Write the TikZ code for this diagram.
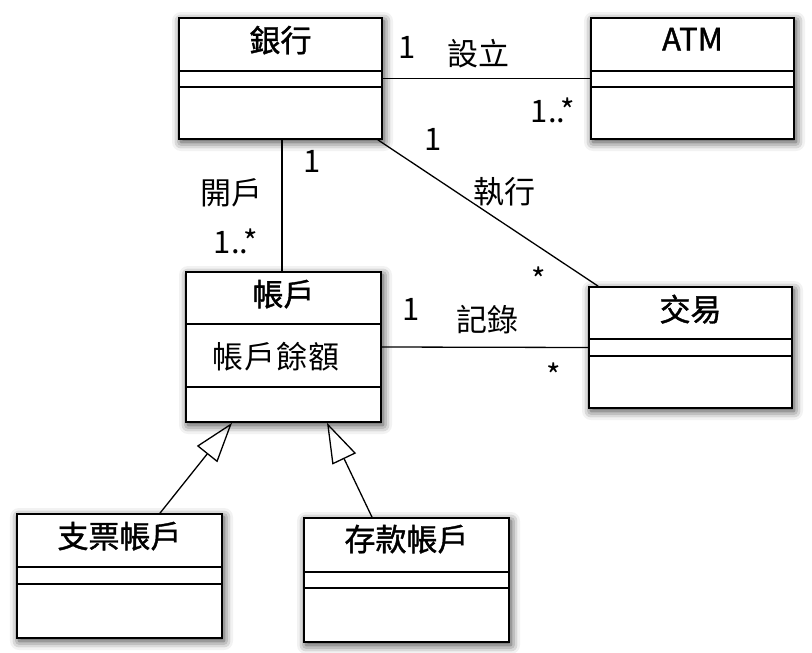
\documentclass[tikz,border=0pt]{standalone}
\usepackage{fontspec}
\setmainfont{Noto Sans CJK TC}
\newfontfamily\namefont[FakeBold=1.3]{Noto Sans CJK TC}
\usetikzlibrary{positioning, calc, arrows.meta, shadows.blur}
\tikzset{>=Stealth}
\tikzset{
	umlclass/.style={draw, line width=1.7pt, fill=white, inner sep=0pt,
		blur shadow={shadow xshift=2pt, shadow yshift=-3pt, shadow blur radius=9pt, shadow opacity=80}},
	clsname/.style={font=\namefont\fontsize{31}{33}\selectfont, inner sep=0pt},
	mult/.style={font=\fontsize{31}{33}\selectfont, inner sep=0pt},
	assoc/.style={line width=1.3pt},
	inherit/.style={line width=1.3pt, -{Triangle[open, length=40pt, width=26pt, line width=1.3pt]}},
}

\begin{document}
\begin{tikzpicture}[x=1pt, y=-1pt]
		\useasboundingbox (0,0) rectangle (812,653);

		% classes
		\node[umlclass, minimum width=203pt, minimum height=121pt] (bank) at (280.5, 78.5) {};
		\node[umlclass, minimum width=203pt, minimum height=121pt] (atm) at (692.5, 78.5) {};
		\node[umlclass, minimum width=195pt, minimum height=150pt] (account) at (283.5, 347) {};
		\node[umlclass, minimum width=203pt, minimum height=121pt] (trans) at (690.5, 347.5) {};
		\node[umlclass, minimum width=205pt, minimum height=124pt] (check) at (119.5, 576) {};
		\node[umlclass, minimum width=205pt, minimum height=124pt] (saving) at (406.5, 580) {};

		\begin{scope}[line width=1.4pt]
			\draw (bank.west |- 0,71) -- (bank.east |- 0,71) (bank.west |- 0,87) -- (bank.east |- 0,87);
			\draw (atm.west |- 0,71) -- (atm.east |- 0,71) (atm.west |- 0,87) -- (atm.east |- 0,87);
			\draw (account.west |- 0,324) -- (account.east |- 0,324) (account.west |- 0,387) -- (account.east |- 0,387);
			\draw (trans.west |- 0,339) -- (trans.east |- 0,339) (trans.west |- 0,356) -- (trans.east |- 0,356);
			\draw (check.west |- 0,567) -- (check.east |- 0,567) (check.west |- 0,584) -- (check.east |- 0,584);
			\draw (saving.west |- 0,572) -- (saving.east |- 0,572) (saving.west |- 0,588) -- (saving.east |- 0,588);
		\end{scope}

		\node[clsname] (bankname) at ($(bank.north)+(0,23)$) {銀行};
		\node[clsname] (atmname) at ($(atm.north)+(0,22)$) {ATM};
		\node[clsname] (accountname) at ($(account.north)+(0,23)$) {帳戶};
		\node[clsname] (transname) at ($(trans.north)+(0,23)$) {交易};
		\node[clsname] (checkname) at ($(check.north)+(0,23)$) {支票帳戶};
		\node[clsname] (savingname) at ($(saving.north)+(0,22)$) {存款帳戶};
		\node[mult] (balance) at (276, 357) {\makebox[32pt]{帳}\makebox[32pt]{戶}\makebox[32pt]{餘}\makebox[32pt]{額}};

		% associations
		\draw[assoc] (bank.east) -- (atm.west);
		\draw[assoc] (bank.south -| 282,0) -- (account.north -| 282,0);
		\draw[assoc] ($(bank.south east)+(-5,0)$) -- ($(trans.north west)+(10,0)$);
		\draw[assoc] (account.east) -- (trans.west);
		\draw[inherit] (check.north -| 160,0) -- (account.south -| 232,0);
		\draw[inherit] (saving.north -| 372,0) -- (account.south -| 327,0);

		% labels
		\begin{scope}[every node/.append style={mult}]
			\node (m1) at (407, 47) {1};
			\node (setup) at (478, 54) {設立};
			\node (m2) at (553, 110) {1..*};
			\node (m3) at (433, 139) {1};
			\node (exec) at (504, 192) {執行};
			\node (m4) at (539, 279) {*};
			\node (m5) at (312, 161) {1};
			\node (open) at (231, 193) {開戶};
			\node (m6) at (236, 241) {1..*};
			\node (m7) at (411, 309) {1};
			\node (record) at (487, 320) {記錄};
			\node (m8) at (554, 375) {*};
		\end{scope}
	\end{tikzpicture}
\end{document}
